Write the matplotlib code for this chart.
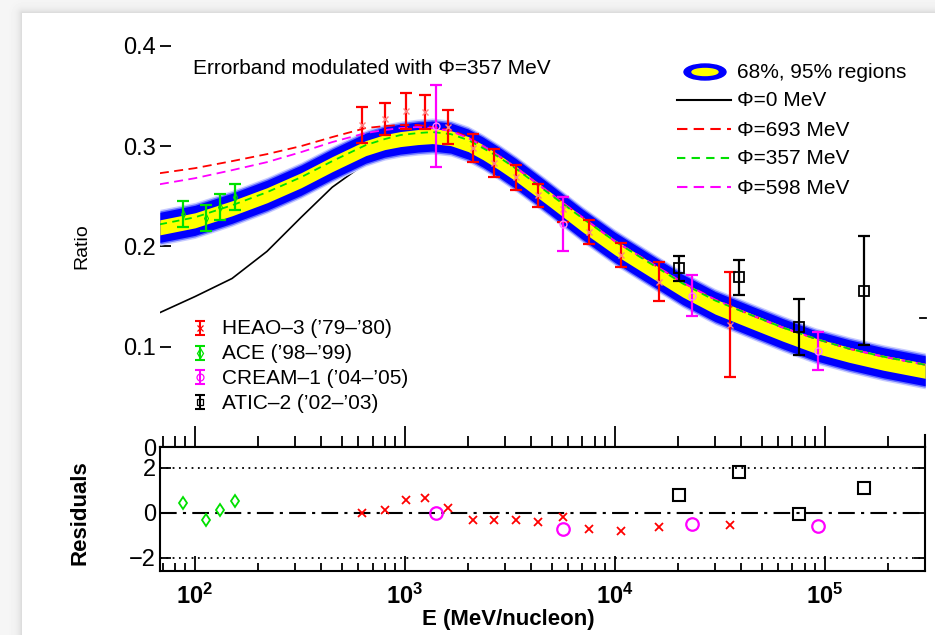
import numpy as np
import matplotlib
matplotlib.use("Agg")
import matplotlib.pyplot as plt
from matplotlib.patches import Ellipse
from matplotlib.ticker import FixedLocator, FixedFormatter, LogLocator, NullFormatter, FuncFormatter

plt.rcParams['font.family'] = ['Liberation Sans', 'DejaVu Sans']
plt.rcParams['mathtext.fontset'] = 'custom'
plt.rcParams['mathtext.rm'] = 'Liberation Sans'
plt.rcParams['mathtext.bf'] = 'Liberation Sans:bold'

# model curves (E in MeV/nucleon)
E_model = [68, 100, 150, 220, 320, 450, 650, 800, 950, 1150, 1350, 1650, 2000, 2350,
           2800, 3400, 4900, 7000, 10000, 15000, 21000, 30000, 44000, 63000, 90000,
           130000, 190000, 300000]
band_mid = [0.219, 0.226, 0.238, 0.251, 0.266, 0.282, 0.298, 0.304, 0.307, 0.309, 0.310,
            0.308, 0.302, 0.294, 0.284, 0.272, 0.247, 0.222, 0.199, 0.176, 0.157, 0.140,
            0.126, 0.113, 0.101, 0.092, 0.084, 0.076]
band_68 = 0.0075
band_95 = 0.015
phi0 = [0.134, 0.150, 0.168, 0.195, 0.229, 0.259, 0.283, 0.293, 0.300, 0.307, 0.311,
        0.311, 0.303, 0.294, 0.284, 0.272, 0.247, 0.222, 0.199, 0.176, 0.157, 0.140,
        0.126, 0.113, 0.101, 0.092, 0.084, 0.076]
phi693 = [0.273, 0.278, 0.285, 0.292, 0.300, 0.309, 0.318, 0.320, 0.321, 0.321, 0.319,
          0.316, 0.309, 0.300, 0.290, 0.278, 0.253, 0.229, 0.205, 0.183, 0.164, 0.147,
          0.132, 0.119, 0.108, 0.098, 0.090, 0.082]
phi357 = [0.222, 0.229, 0.241, 0.254, 0.269, 0.285, 0.301, 0.307, 0.311, 0.313, 0.314,
          0.312, 0.306, 0.298, 0.289, 0.277, 0.252, 0.228, 0.205, 0.182, 0.163, 0.146,
          0.132, 0.119, 0.108, 0.098, 0.090, 0.082]
phi598 = [0.262, 0.268, 0.276, 0.284, 0.294, 0.304, 0.313, 0.316, 0.318, 0.319, 0.318,
          0.315, 0.308, 0.300, 0.290, 0.278, 0.253, 0.229, 0.205, 0.183, 0.164, 0.147,
          0.132, 0.119, 0.108, 0.098, 0.090, 0.082]

# measurements
heao_E = [624, 803, 1011, 1245, 1603, 2110, 2655, 3378, 4298, 5650, 7515, 10690, 16220, 35300]
heao_y = [0.321, 0.327, 0.335, 0.334, 0.319, 0.298, 0.283, 0.269, 0.251, 0.237, 0.214,
          0.191, 0.165, 0.122]
heao_err = [0.018, 0.016, 0.018, 0.017, 0.0165, 0.014, 0.014, 0.0125, 0.0115, 0.0125,
            0.012, 0.012, 0.0195, 0.052]
heao_res = [0.0, 0.15, 0.56, 0.67, 0.22, -0.33, -0.33, -0.30, -0.39, -0.19, -0.70, -0.79,
            -0.62, -0.52]

ace_E = [88, 113, 132, 155]
ace_y = [0.232, 0.228, 0.239, 0.249]
ace_err = [0.013, 0.013, 0.013, 0.013]
ace_res = [0.44, -0.33, 0.15, 0.55]

cream_E = [1400, 5650, 23300, 92700]
cream_y = [0.320, 0.222, 0.151, 0.096]
cream_err = [0.041, 0.027, 0.020, 0.019]
cream_res = [0.0, -0.70, -0.47, -0.59]

atic_E = [20200, 39000, 75200, 153000]
atic_y = [0.178, 0.169, 0.120, 0.156]
atic_err = [0.0125, 0.017, 0.028, 0.054]
atic_res = [0.81, 1.81, -0.03, 1.11]

ratio_ticks = [0, 0.1, 0.2, 0.3, 0.4]
ratio_labels = ['0', '0.1', '0.2', '0.3', '0.4']
res_ticks = [-2, 0, 2]

RED, GREEN, MAG = '#ff0000', '#00e000', '#ff00ff'

fig = plt.figure(figsize=(9.35, 6.35), dpi=100)
fig.patch.set_facecolor('white')

# page shadow in the background
bg = fig.add_axes([0, 0, 1, 1], zorder=-10)
yy, xx = np.mgrid[0:635, 0:935]
dx = np.clip(22 - xx, 0, None)
dy = np.clip(13 - yy, 0, None)
d = np.hypot(dx, dy)
shade = np.where(d > 0, 0.965 - 0.13 * np.exp(-d / 4.0), 1.0)
bg.imshow(shade, cmap='gray', vmin=0, vmax=1, extent=[0, 935, 635, 0], aspect='auto')
bg.axis('off')

L, W = 160 / 935, 765 / 935
ax = fig.add_axes([L, 0.29606, W, 0.6634])
axr = fig.add_axes([L, 0.10079, W, 0.19528], sharex=ax)
ax.patch.set_visible(False)

E = np.array(E_model)
mid = np.array(band_mid)
ax.fill_between(E, mid - band_95 - 0.003, mid + band_95 + 0.003, color='#c8ccff', lw=0, zorder=2)
ax.fill_between(E, mid - band_95 - 0.0015, mid + band_95 + 0.0015, color='#6670ff', lw=0, zorder=2)
ax.fill_between(E, mid - band_95, mid + band_95, color='#0000ff', lw=0, zorder=2)
ax.fill_between(E, mid - band_68, mid + band_68, color='#ffff00', lw=0, zorder=2)

ax.plot(E, phi0, color='black', lw=1.2, zorder=1)
ax.plot(E, phi693, color=RED, lw=1.3, dashes=(5, 3), zorder=3)
ax.plot(E, phi598, color=MAG, lw=1.3, dashes=(5, 3), zorder=3)
ax.plot(E, phi357, color=GREEN, lw=1.3, dashes=(4, 3), zorder=3)

eb = dict(fmt='none', elinewidth=1.6, capsize=4, capthick=1.6, zorder=5)
ax.errorbar(heao_E, heao_y, yerr=heao_err, ecolor=RED, **eb)
ax.plot(heao_E, heao_y, 'x', color='#ff8080', ms=5, mew=1, zorder=5)
ax.errorbar(ace_E, ace_y, yerr=ace_err, ecolor=GREEN, **eb)
ax.plot(ace_E, ace_y, 'd', color=GREEN, mfc='none', ms=4, mew=0.8, zorder=5)
ax.errorbar(cream_E, cream_y, yerr=cream_err, ecolor=MAG, **eb)
ax.plot(cream_E, cream_y, 'o', color='#ff80ff', mfc='none', ms=5, mew=1, zorder=5)
ax.errorbar(atic_E, atic_y, yerr=atic_err, ecolor='black', **eb)
ax.plot(atic_E, atic_y, 's', color='black', mfc='none', ms=7, mew=1.3, zorder=6)

ax.set_xscale('log')
ax.set_xlim(68.1, 2.993e5)
ax.set_ylim(0, 0.42)
for s in ['top', 'left', 'right']:
    ax.spines[s].set_visible(False)
ax.spines['bottom'].set_linewidth(1.5)
ax.yaxis.set_major_locator(FixedLocator(ratio_ticks))
ax.yaxis.set_major_formatter(FixedFormatter(ratio_labels))
ax.tick_params(axis='y', which='major', direction='in', length=8, width=1.3,
               labelsize=17, pad=3)
ax.tick_params(axis='y', which='minor', left=False)
ax.tick_params(axis='x', which='both', direction='in', top=False, bottom=True,
               labelbottom=False, width=1.3)
ax.tick_params(axis='x', which='major', length=15)
ax.tick_params(axis='x', which='minor', length=8)

# residuals
axr.axhline(2, color='black', lw=1.3, ls=(0, (1, 2.5)))
axr.axhline(-2, color='black', lw=1.3, ls=(0, (1, 2.5)))
axr.axhline(0, color='black', lw=1.5, dashes=(8, 3, 1.5, 3))
axr.plot(heao_E, heao_res, 'x', color=RED, ms=6, mew=1.3, zorder=5)
axr.plot(ace_E, ace_res, 'd', color=GREEN, mfc='none', ms=6, mew=1.3, zorder=5)
axr.plot(cream_E, cream_res, 'o', color=MAG, mfc='none', ms=9, mew=1.6, zorder=5)
axr.plot(atic_E, atic_res, 's', color='black', mfc='none', ms=8, mew=1.5, zorder=5)
axr.set_ylim(-2.578, 2.933)
for s in axr.spines.values():
    s.set_linewidth(1.5)
axr.yaxis.set_major_locator(FixedLocator(res_ticks))
axr.tick_params(axis='y', direction='in', left=True, right=True, length=8, width=1.3,
                labelsize=17, pad=3)
axr.xaxis.set_major_locator(LogLocator(base=10))
axr.xaxis.set_minor_locator(LogLocator(base=10, subs=np.arange(2, 10)))
axr.xaxis.set_minor_formatter(NullFormatter())
axr.xaxis.set_major_formatter(FuncFormatter(lambda v, p: r'$\mathbf{10^{%d}}$' % round(np.log10(v))))
axr.tick_params(axis='x', which='both', direction='in', top=False, bottom=True,
                width=1.3, labelsize=17, pad=9)
axr.tick_params(axis='x', which='major', length=11)
axr.tick_params(axis='x', which='minor', length=6)
axr.set_xlim(68.1, 2.993e5)

# overlay for titles and legends, in pixel coordinates
ov = fig.add_axes([0, 0, 1, 1], zorder=10)
ov.set_xlim(0, 935)
ov.set_ylim(635, 0)
ov.axis('off')
ov.patch.set_alpha(0)

# stubs of the top panel's right axis
ov.plot([925, 925], [435, 447], color='black', lw=1.5)
ov.plot([920, 926], [318, 318], color='black', lw=1.3)

ov.text(82, 246, 'Ratio', rotation=90, ha='center', va='center', fontsize=14)
ov.text(80, 513, 'Residuals', rotation=90, ha='center', va='center', fontsize=16,
        fontweight='bold')
ov.text(508, 619, 'E (MeV/nucleon)', ha='center', va='center', fontsize=16,
        fontweight='bold')
ov.text(193, 68, 'Errorband modulated with \u03a6=357 MeV', va='center', fontsize=15)

ov.add_patch(Ellipse((705, 72), 42, 16, color='#0000ff'))
ov.add_patch(Ellipse((705, 72), 26, 7, color='#ffff00'))
ov.text(737, 73, '68%, 95% regions', va='center', fontsize=15)
leg_lines = [('\u03a6=0 MeV', 'black', None),
             ('\u03a6=693 MeV', RED, (5, 3)),
             ('\u03a6=357 MeV', GREEN, (4, 3)),
             ('\u03a6=598 MeV', MAG, (5, 3))]
for i, (lab, col, dsh) in enumerate(leg_lines):
    y = 100 + i * 29
    if dsh is None:
        ov.plot([677, 731], [y, y], color=col, lw=1.5)
    else:
        ov.plot([677, 731], [y, y], color=col, lw=1.5, dashes=dsh)
    ov.text(737, y + 1, lab, va='center', fontsize=15)

leg_pts = [("HEAO\u20133 (\u201979\u2013\u201980)", RED, 'x'),
           ("ACE (\u201998\u2013\u201999)", GREEN, 'd'),
           ("CREAM\u20131 (\u201904\u2013\u201905)", MAG, 'o'),
           ("ATIC\u20132 (\u201902\u2013\u201903)", 'black', 's')]
for i, (lab, col, mk) in enumerate(leg_pts):
    y = 328 + i * 24.7
    ov.errorbar([200], [y], yerr=[7], fmt='none', ecolor=col, elinewidth=1.5,
                capsize=3.5, capthick=1.5)
    ov.plot([200], [y], mk, color=col, mfc='none', ms=5, mew=0.9)
    ov.text(222, y + 1, lab, va='center', fontsize=15)

fig.savefig('out.png', dpi=100)
